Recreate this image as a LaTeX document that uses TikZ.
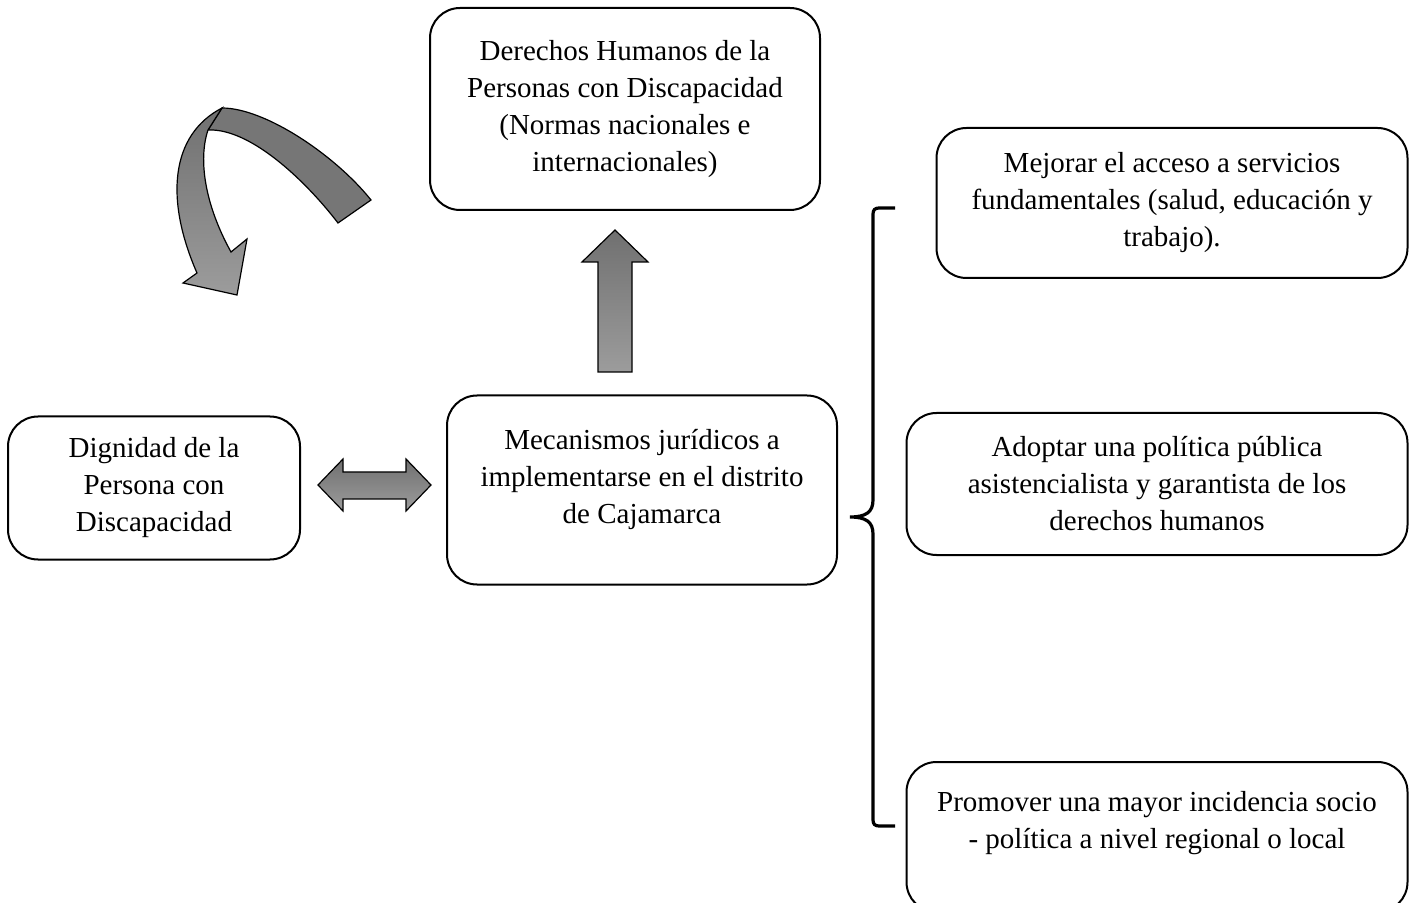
\documentclass[tikz,border=0pt]{standalone}
\usepackage{fontspec}
\setmainfont{Liberation Serif}
\begin{document}
\begin{tikzpicture}[x=0.5pt,y=-0.5pt,
  box/.style={draw=black,line width=1pt,fill=white,rounded corners=15pt,inner sep=0pt,align=center,
    font=\fontsize{14.5}{18.5}\selectfont},
  txt/.style={inner sep=0pt,align=center,font=\fontsize{14.5}{18.5}\selectfont},
  grayarrow/.style={draw=black,line width=0.6pt,top color={rgb,255:red,112;green,112;blue,112},bottom color={rgb,255:red,156;green,156;blue,156}},
  darkband/.style={draw=black,line width=0.6pt,fill={rgb,255:red,118;green,118;blue,118}},
  bracestyle/.style={draw=black,line width=1.6pt}]
\clip (0,0) rectangle (1419,903);
\useasboundingbox (0,0) rectangle (1419,903);

% boxes
\node[box,minimum width=195pt,minimum height=101pt] (der) at (625,109)
  {Derechos Humanos de la\\Personas con Discapacidad\\(Normas nacionales e\\internacionales)};
\node[box,minimum width=146pt,minimum height=71.5pt] (dig) at (154,488)
  {Dignidad de la\\Persona con\\Discapacidad};
\node[box,minimum width=195pt,minimum height=94.5pt] (mec) at (642,490) {};
\node[txt] (mecT) at (642,480) {Mecanismos jurídicos a\\implementarse en el distrito\\de Cajamarca};
\node[box,minimum width=235.5pt,minimum height=75pt] (mej) at (1172,203)
  {Mejorar el acceso a servicios\\fundamentales (salud, educación y\\trabajo).};
\node[box,minimum width=250.5pt,minimum height=71pt] (ado) at (1157,484)
  {Adoptar una política pública\\asistencialista y garantista de los\\derechos humanos};
\node[box,minimum width=250.5pt,minimum height=75pt] (pro) at (1157,837) {};
\node[txt] (proT) at (1157,823) {Promover una mayor incidencia socio\\- política a nivel regional o local};

% up arrow between mec and der
\coordinate (upB) at (615,372);
\draw[grayarrow] (598,372) -- (598,262) -- (582,262) -- (615,230) -- (648,262) -- (632,262) -- (632,372) -- cycle;

% double arrow between dig and mec
\draw[grayarrow] (318,485) -- (343,459) -- (343,472) -- (406,472) -- (406,459) -- (431,485)
  -- (406,511) -- (406,499) -- (343,499) -- (343,511) -- cycle;

% curved arrow
\draw[darkband] (371,200) .. controls (335,155) and (265,108) .. (222,108) -- (208,130)
  .. controls (250,128) and (305,180) .. (338,223) -- cycle;
\draw[grayarrow] (222,108) .. controls (170,135) and (165,200) .. (197,273) -- (183,283) -- (237,295)
  -- (247,239) -- (231,252) .. controls (205,205) and (198,160) .. (208,130) -- cycle;

% brace
\coordinate (brT) at (895,208);
\coordinate (brB) at (895,826);
\coordinate (brM) at (850,517);
\draw[bracestyle,line cap=butt] (brT) -- (879,208) .. controls (875,208) and (873,210) .. (873,214)
  -- (873,500) .. controls (873,512) and (866,517) .. (brM)
  .. controls (866,517) and (873,522) .. (873,534)
  -- (873,820) .. controls (873,824) and (875,826) .. (879,826) -- (brB);
\end{tikzpicture}
\end{document}
